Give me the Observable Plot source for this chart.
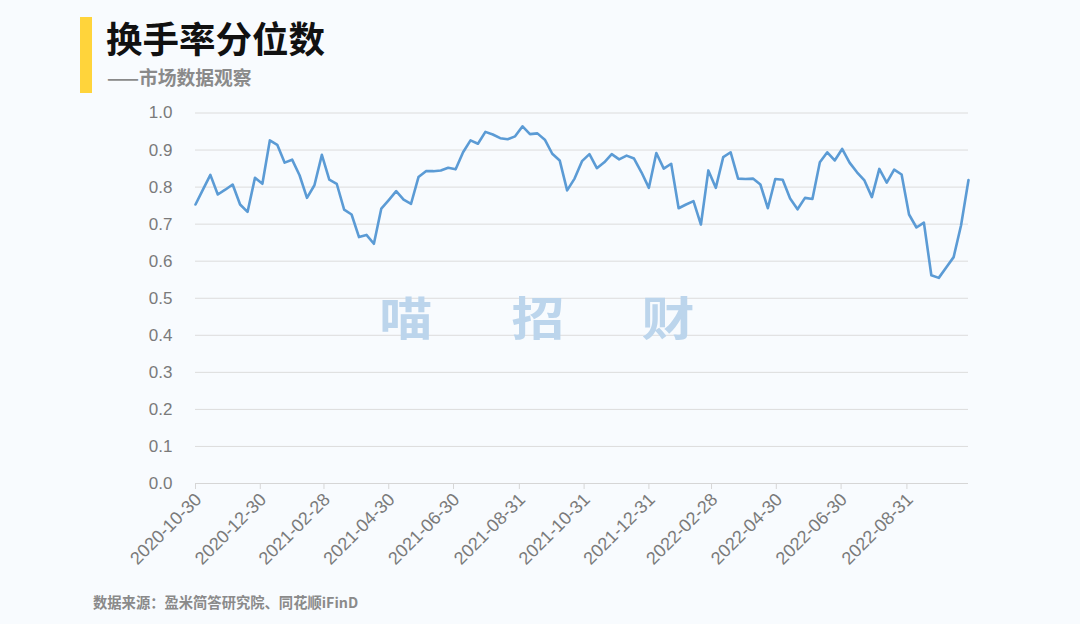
<!DOCTYPE html>
<html>
<head>
<meta charset="utf-8">
<script src="https://cdn.jsdelivr.net/npm/d3@7"></script>
<script src="https://cdn.jsdelivr.net/npm/@observablehq/plot@0.6"></script>
<style>
  html, body { margin: 0; padding: 0; background: #f8fbfe; }
  #page { position: relative; width: 1080px; height: 624px; overflow: hidden; background: #f8fbfe;
          font-family: "Noto Sans CJK SC", "Noto Sans", sans-serif; }
  #bar { position: absolute; left: 80px; top: 17px; width: 12px; height: 76px; background: #ffd43b; }
  #title { position: absolute; left: 106px; top: 18px; font-size: 36.5px; font-weight: 700; color: #111; line-height: 1.1; }
  #subtitle { position: absolute; left: 107px; top: 66px; font-size: 18.8px; font-weight: 700; color: #8a8a8a; line-height: 1.2; }
  #chart { position: absolute; left: 0; top: 95px; }
  #source { position: absolute; left: 93px; top: 593px; font-size: 14.3px; font-weight: 700; color: #8a8a8a; line-height: 1.2; }
  .wm { position: absolute; top: 290px; width: 60px; text-align: center; font-size: 46px; font-weight: 700; color: #bcd5ec;
        line-height: 1.1; transform: scaleX(1.15); }
</style>
</head>
<body>
<div id="page">
  <div id="bar"></div>
  <div id="title">换手率分位数</div>
  <div id="subtitle">——市场数据观察</div>
  <div id="chart"></div>
  <div class="wm" style="left:376px">喵</div>
  <div class="wm" style="left:508px">招</div>
  <div class="wm" style="left:638px">财</div>
  <div id="source">数据来源：盈米简答研究院、同花顺iFinD</div>
</div>
<script>
// Weekly turnover-rate percentile, first week 2020-10-30
const startDate = "2020-10-30";
const endDate = "2022-10-28";
const values = [
  0.753, 0.793, 0.833, 0.780, 0.793, 0.807, 0.753, 0.733, 0.825, 0.809,
  0.926, 0.914, 0.866, 0.874, 0.832, 0.771, 0.805, 0.887, 0.820, 0.809,
  0.739, 0.726, 0.665, 0.671, 0.647, 0.742, 0.765, 0.789, 0.766, 0.755,
  0.827, 0.843, 0.843, 0.845, 0.852, 0.848, 0.894, 0.926, 0.917, 0.949,
  0.942, 0.932, 0.929, 0.937, 0.964, 0.943, 0.945, 0.928, 0.890, 0.872,
  0.791, 0.823, 0.870, 0.889, 0.851, 0.867, 0.889, 0.875, 0.885, 0.877,
  0.840, 0.798, 0.892, 0.850, 0.863, 0.743, 0.753, 0.762, 0.699, 0.845,
  0.798, 0.881, 0.894, 0.823, 0.822, 0.823, 0.807, 0.743, 0.822, 0.820,
  0.769, 0.740, 0.771, 0.768, 0.867, 0.894, 0.872, 0.903, 0.866, 0.840,
  0.818, 0.773, 0.849, 0.812, 0.847, 0.834, 0.726, 0.691, 0.704, 0.562,
  0.555, 0.583, 0.611, 0.697, 0.819
];
const xTickLabels = [
  "2020-10-30", "2020-12-30", "2021-02-28", "2021-04-30", "2021-06-30", "2021-08-31",
  "2021-10-31", "2021-12-31", "2022-02-28", "2022-04-30", "2022-06-30", "2022-08-31"
];
const yTicks = [0, 0.1, 0.2, 0.3, 0.4, 0.5, 0.6, 0.7, 0.8, 0.9, 1.0];

const parse = d3.utcParse("%Y-%m-%d");
const t0 = parse(startDate);
const data = values.map((v, i) => ({ date: d3.utcDay.offset(t0, 7 * i), value: v }));
const xTicks = xTickLabels.map(parse);
const fmt = d3.utcFormat("%Y-%m-%d");

const chart = Plot.plot({
  width: 1080,
  height: 500,
  marginLeft: 195,
  marginRight: 112,
  marginTop: 17.5,
  marginBottom: 112,
  style: { background: "transparent", fontFamily: "'Liberation Sans', 'Noto Sans', sans-serif", overflow: "visible" },
  x: { type: "utc", domain: [t0, parse(endDate)] },
  y: { domain: [0, 1] },
  marks: [
    Plot.gridY(yTicks.slice(1), { stroke: "#dcdcdc", strokeOpacity: 1, strokeWidth: 1 }),
    Plot.ruleY([0], { stroke: "#d6d6d6", strokeWidth: 1 }),
    Plot.axisY(yTicks, { tickSize: 0, tickPadding: 23, tickFormat: d3.format(".1f"), fontSize: 17, fill: "#7a7a7a", label: null }),
    Plot.axisX(xTicks, { tickSize: 6, stroke: "#d6d6d6", text: null, label: null }),
    Plot.axisX(xTicks, { tickSize: 0, tickPadding: 13, dx: 3, tickRotate: -45, tickFormat: fmt, fontSize: 18, fill: "#7a7a7a", label: null }),
    Plot.line(data, { x: "date", y: "value", stroke: "#5b9bd5", strokeWidth: 2.6, strokeLinejoin: "round" })
  ]
});
document.getElementById("chart").appendChild(chart);
</script>
</body>
</html>
